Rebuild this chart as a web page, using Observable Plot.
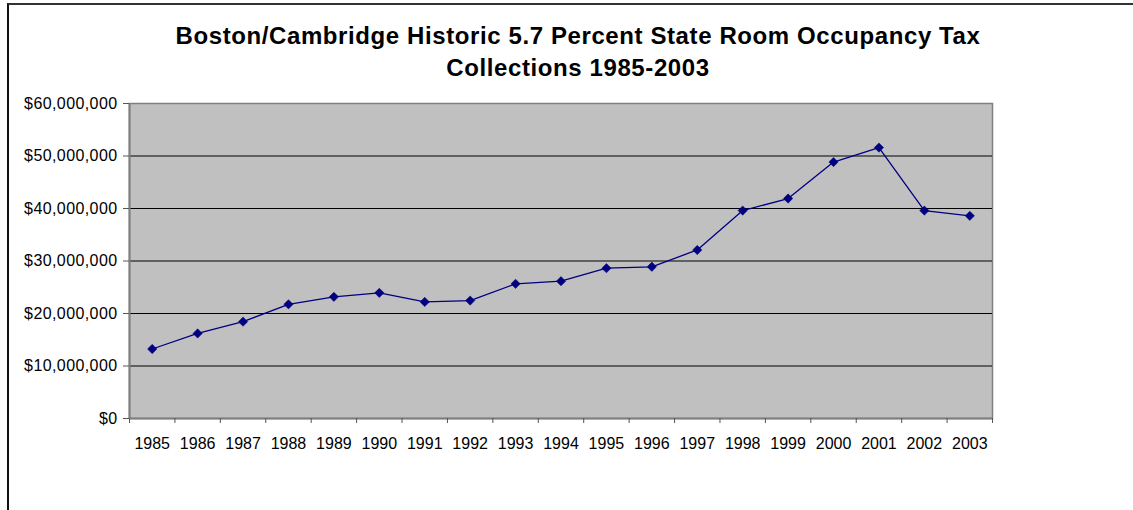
<!DOCTYPE html>
<html>
<head>
<meta charset="utf-8">
<script src="https://cdn.jsdelivr.net/npm/d3@7"></script>
<script src="https://cdn.jsdelivr.net/npm/@observablehq/plot@0.6"></script>
<style>
  html, body { margin: 0; padding: 0; background: #fff; }
  #wrap { position: absolute; left: 0; top: 0; width: 1133px; height: 510px; overflow: hidden; }
  #border { position: absolute; left: 7px; top: 3px; width: 1140px; height: 520px;
            border-left: 2px solid #111; border-top: 2px solid #333; box-sizing: border-box; pointer-events: none; }
  #chart { position: absolute; left: 0; top: 0; }
</style>
</head>
<body>
<div id="wrap">
  <div id="chart"></div>
  <div id="border"></div>
</div>
<script>
const years = [1985,1986,1987,1988,1989,1990,1991,1992,1993,1994,1995,1996,1997,1998,1999,2000,2001,2002,2003];
const collections = [13.24e6,16.2e6,18.45e6,21.75e6,23.17e6,23.93e6,22.2e6,22.46e6,25.65e6,26.15e6,28.63e6,28.9e6,32.1e6,39.6e6,41.9e6,48.85e6,51.6e6,39.6e6,38.6e6];
const yTicks = [0,10e6,20e6,30e6,40e6,50e6,60e6];
const gridValues = [10e6,20e6,30e6,40e6,50e6];
const titleLines = ["Boston/Cambridge Historic 5.7 Percent State Room Occupancy Tax", "Collections 1985-2003"];

const data = years.map((y, i) => ({year: y, value: collections[i]}));
const boundaries = d3.range(years.length + 1).map(i => years[0] - 0.5 + i);
const fmt = d3.format("$,");

const chart = Plot.plot({
  width: 1133,
  height: 510,
  marginLeft: 129,
  marginRight: 141,
  marginTop: 103,
  marginBottom: 92,
  style: {fontFamily: "'Liberation Sans', Arial, sans-serif", fontSize: "16px", color: "#000", background: "transparent"},
  x: {domain: [years[0] - 0.5, years[years.length - 1] + 0.5], axis: null},
  y: {domain: [0, 60e6], axis: null},
  marks: [
    Plot.frame({fill: "#c0c0c0", stroke: "#808080", strokeWidth: 1.5}),
    Plot.ruleY(gridValues, {stroke: "#000", strokeWidth: 1}),
    Plot.ruleY([0], {stroke: "#808080", strokeWidth: 2}),
    Plot.ruleX([boundaries[0]], {stroke: "#808080", strokeWidth: 2}),
    Plot.axisY({ticks: yTicks, tickFormat: fmt, tickSize: 6, tickPadding: 6, fontSize: 16, stroke: "#555", label: null, color: "#000"}),
    Plot.axisX({ticks: boundaries, tickFormat: () => "", tickSize: 5, stroke: "#555", label: null}),
    Plot.axisX({ticks: years, tickFormat: d => String(d), tickSize: 0, tickPadding: 19, fontSize: 16, label: null, color: "#000"}),
    Plot.line(data, {x: "year", y: "value", stroke: "#000080", strokeWidth: 1.3}),
    Plot.dot(data, {x: "year", y: "value", symbol: "diamond2", fill: "#000080", stroke: "#000080", strokeWidth: 0.5, r: 4.2}),
    Plot.text([titleLines[0]], {frameAnchor: "top", dx: 17, dy: -60, text: d => d, fontSize: 24, fontWeight: "bold", fill: "#000", lineAnchor: "bottom"}),
    Plot.text([titleLines[1]], {frameAnchor: "top", dx: 17, dy: -28, text: d => d, fontSize: 24, fontWeight: "bold", fill: "#000", lineAnchor: "bottom"})
  ]
});
chart.querySelectorAll("text").forEach(t => {
  const s = t.textContent;
  if (s.startsWith("Boston") || s.startsWith("Collections")) t.style.letterSpacing = "0.6px";
  else if (s.startsWith("$")) t.style.letterSpacing = "0.4px";
});
document.getElementById("chart").appendChild(chart);
</script>
</body>
</html>
